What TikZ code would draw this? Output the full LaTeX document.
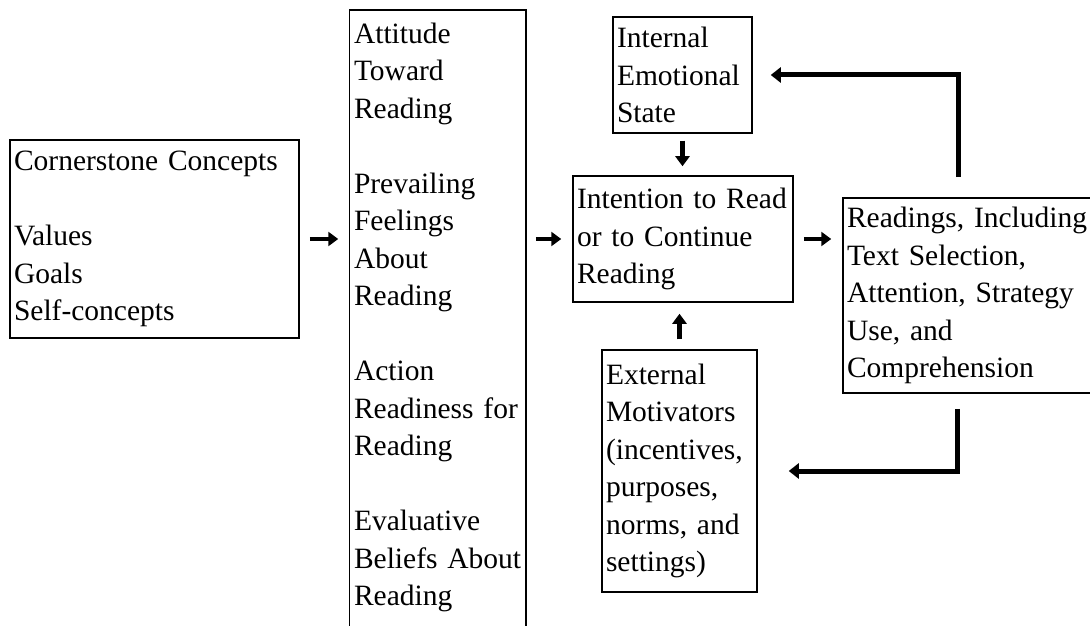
\documentclass[tikz,border=0pt]{standalone}
\usepackage{fontspec}
\setmainfont{Liberation Serif}
\usetikzlibrary{arrows.meta}
\tikzstyle{box} = [rectangle, draw=black, line width=1.5pt, inner xsep=4pt, inner ysep=4pt, align=left, font={\fontsize{29.5}{37.5}\selectfont}]
\tikzstyle{edge} = [draw=black, line width=1.5pt]
\tikzstyle{arrow} = [line width=4.5pt, -{Triangle[length=10pt,width=14pt]}, shorten <=10pt, shorten >=11pt]
\tikzstyle{feedback} = [line width=5pt, -{Triangle[length=10pt,width=15pt]}, line join=miter]

\begin{document}
\begin{tikzpicture}[x=1pt, y=1pt]

\useasboundingbox (0,0) rectangle (1090,625);
\clip (0,0) rectangle (1090,625);

% Left box
\node (corner) [box, text width=281pt, minimum height=198pt] at (154.5,386) {Cornerstone Concepts\\[37.5pt]Values\\Goals\\Self-concepts};

% Tall box, open at the bottom
\node (att) [box, draw=none, text width=167pt, inner ysep=12pt, anchor=north] at (437.5,615) {Attitude\\Toward\\Reading\\[37.5pt]Prevailing\\Feelings\\About\\Reading\\[37.5pt]Action\\Readiness~for\\Reading\\[37.5pt]Evaluative\\Beliefs~About\\Reading};
\draw [edge] ([yshift=-40pt]att.south west) |- (att.north east) -- ([yshift=-40pt]att.south east);

% Middle column
\node (internal) [box, text width=131pt, minimum height=116pt] at (682.5,550) {Internal\\Emotional\\State};
\node (intention) [box, text width=212pt, minimum height=126pt] at (683,386) {Intention to Read\\or to Continue\\Reading};
\node (external) [box, text width=147pt, minimum height=242pt] at (679.5,154) {External\\Motivators\\(incentives,\\purposes,\\norms, and\\settings)};

% Right box
\node (readings) [box, text width=249pt, minimum height=195pt] at (971.5,329.5) {Readings, Including\\Text Selection,\\Attention, Strategy\\Use, and\\Comprehension};

% Drawing arrows
\draw [arrow] (corner.east) -- (corner.east -| att.west);
\draw [arrow] (att.east |- intention.west) -- (intention.west);
\draw [arrow] (intention.east) -- (intention.east -| readings.west);
\draw [arrow, shorten <=7pt, shorten >=9pt] (internal.south) -- (internal.south |- intention.north);
\draw [arrow] (external.north) -- (external.north |- intention.south);

% Feedback arrows
\draw [feedback, shorten >=18pt] ([xshift=116pt, yshift=20pt]readings.north west) |- (internal.east);
\draw [feedback, shorten >=31pt] ([xshift=115pt, yshift=-15pt]readings.south west) |- (external.east);

\end{tikzpicture}
\end{document}
